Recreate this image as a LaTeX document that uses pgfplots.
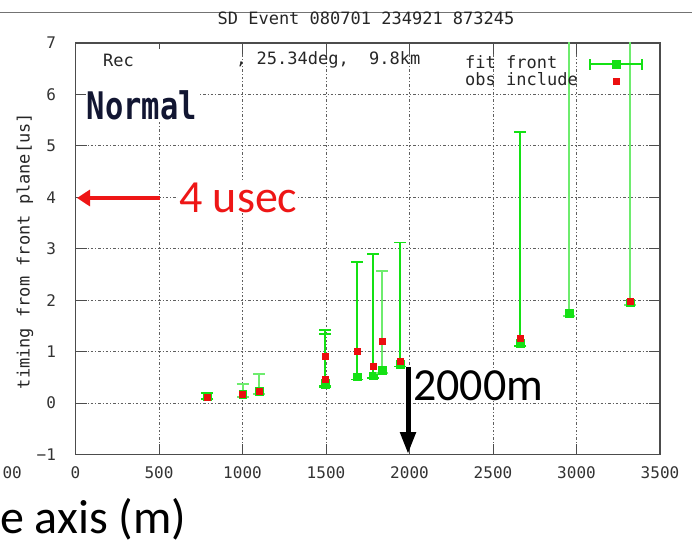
\documentclass[border=0pt]{standalone}
\usepackage{pgfplots}
\pgfplotsset{compat=1.18}
\usepackage{pgfplotstable}
\usepackage{fontspec}
\setmainfont{DejaVu Sans}
\newfontfamily\gpfont{DejaVu Sans Mono}
\newfontfamily\slidefont{Carlito}
\usetikzlibrary{arrows.meta}

\definecolor{fitgreen}{RGB}{20,225,20}
\definecolor{fitpale}{RGB}{110,236,110}
\definecolor{obsred}{RGB}{235,15,15}
\definecolor{slidered}{RGB}{238,22,22}
\definecolor{normalink}{RGB}{18,22,50}
\definecolor{gridink}{RGB}{95,95,95}

% fitted front times: distance [m], time [us], upper / lower error
\pgfplotstableread{
x    y    ep   em
790  0.13 0.07 0.05
1495 0.39 1.03 0.05
1495 0.37 0.98 0.05
1688 0.51 2.23 0.05
1782 0.53 2.37 0.05
1945 0.76 2.36 0.05
2664 1.16 4.11 0.05
}\fitbright
\pgfplotstableread{
x    y    ep   em
1000 0.17 0.20 0.05
1100 0.23 0.33 0.05
1837 0.64 1.92 0.05
2955 1.75 8.00 0.05
3320 1.95 8.00 0.05
}\fitsoft
% observed times included in the fit
\pgfplotstableread{
x    y
790  0.12
1000 0.17
1100 0.23
1495 0.47
1495 0.91
1688 1.00
1782 0.71
1837 1.20
1945 0.82
2664 1.27
3320 1.98
}\obsinc

\newcommand\gpsize{\fontsize{17}{17}\selectfont}
\newcommand\ticksize{\fontsize{16}{16}\selectfont}

\begin{document}
\begin{tikzpicture}[x=1pt,y=1pt]
\useasboundingbox (0,0) rectangle (692,547);
\draw[black!55, line width=1pt] (0,534) -- (692,534);
\node[font=\gpfont\gpsize, text=black!85, inner sep=0] at (366,529) {SD Event 080701 234921 873245};

\begin{axis}[
  at={(75.5pt,92.5pt)}, anchor=south west,
  scale only axis, width=584.5pt, height=411.5pt,
  xmin=0, xmax=3500, ymin=-1, ymax=7,
  xtick={0,500,1000,1500,2000,2500,3000,3500},
  xticklabels={0,500,1000,1500,2000,2500,3000,3500},
  ytick={-1,0,1,2,3,4,5,6,7},
  yticklabels={−1,0,1,2,3,4,5,6,7},
  ticklabel style={font=\gpfont\ticksize, text=black!80},
  xticklabel style={yshift=-9pt},
  yticklabel style={xshift=-16pt},
  tick align=inside, major tick length=11pt,
  tick style={black!70, line width=1pt},
  axis line style={black!70, line width=1.2pt},
  grid=major,
  major grid style={gridink, line width=0.8pt, dash pattern=on 2.5pt off 2pt on 1pt off 2pt},
  clip marker paths=true,
  legend cell align=left,
  legend plot pos=right,
  legend style={at={(0.6664,0.967)}, anchor=north west, draw=none, fill=none,
    inner sep=0pt, row sep=2pt, font=\gpfont\gpsize, text=black!85,
    nodes={inner sep=0pt, text height=12pt, text depth=3pt}},
]
\addplot[only marks, mark=square*, mark size=3.8pt, fitgreen,
  legend image code/.code={
    \path (0pt,0pt);
    \draw[fitgreen, line width=1.8pt] (12pt,0pt) -- (64pt,0pt);
    \draw[fitgreen, line width=1.8pt] (12pt,-5.5pt) -- (12pt,5.5pt);
    \draw[fitgreen, line width=1.8pt] (64pt,-5.5pt) -- (64pt,5.5pt);
    \fill[fitgreen] (34.2pt,-3.8pt) rectangle (41.8pt,3.8pt);},
  error bars/.cd, y dir=both, y explicit, error mark=|,
  error bar style={fitgreen, line width=2pt},
  error mark options={fitgreen, line width=1.8pt, mark size=6pt}]
  table[x=x, y=y, y error plus=ep, y error minus=em] {\fitbright};
\addlegendentry{fit front}
\addplot[only marks, mark=square*, mark size=3.8pt, fitgreen, forget plot,
  error bars/.cd, y dir=both, y explicit, error mark=|,
  error bar style={fitpale, line width=2pt},
  error mark options={fitpale, line width=1.8pt, mark size=6pt}]
  table[x=x, y=y, y error plus=ep, y error minus=em] {\fitsoft};
\addplot[only marks, mark=square*, mark size=3pt, obsred,
  legend image code/.code={
    \path (0pt,0pt) (64pt,0pt);
    \fill[obsred] (35pt,-3pt) rectangle (41pt,3pt);}]
  table[x=x, y=y] {\obsinc};
\addlegendentry{obs include}
\end{axis}

% label row at the top of the frame
\fill[white] (148,457) rectangle (237,498);
\node[anchor=west, inner sep=0, font=\gpfont\gpsize, text=black!85] at (103,487) {Rec};
\node[anchor=west, inner sep=0, font=\gpfont\gpsize, text=black!85] at (236,487) {,~25.34deg,~~9.8km};
\node[anchor=west, fill=white, inner sep=1pt, xscale=0.8,
  font=\gpfont\bfseries\fontsize{38}{38}\selectfont, text=normalink] at (86,442) {Normal};

% y label
\node[rotate=90, inner sep=0, font=\gpfont\gpsize, text=black!85] at (25,296) {timing from front plane[us]};

% annotations
\draw[slidered, line width=4pt, -{Triangle[length=13pt,width=16pt]}] (160,349) -- (77,349);
\node[anchor=base west, fill=white, inner sep=1pt, font=\slidefont\fontsize{46}{46}\selectfont, text=slidered] at (178,335) {4 usec};
\draw[black, line width=5pt, -{Triangle[length=22pt,width=15pt]}] (408,180) -- (408,93);
\node[anchor=base west, fill=white, inner sep=1pt, font=\slidefont\fontsize{46}{46}\selectfont] at (412,147) {2000m};
\node[anchor=east, inner sep=0, font=\gpfont\ticksize, text=black!80] at (22,74) {00};
\node[anchor=base west, inner sep=0, font=\slidefont\fontsize{48}{48}\selectfont] at (0,14) {e axis (m)};
\end{tikzpicture}
\end{document}
